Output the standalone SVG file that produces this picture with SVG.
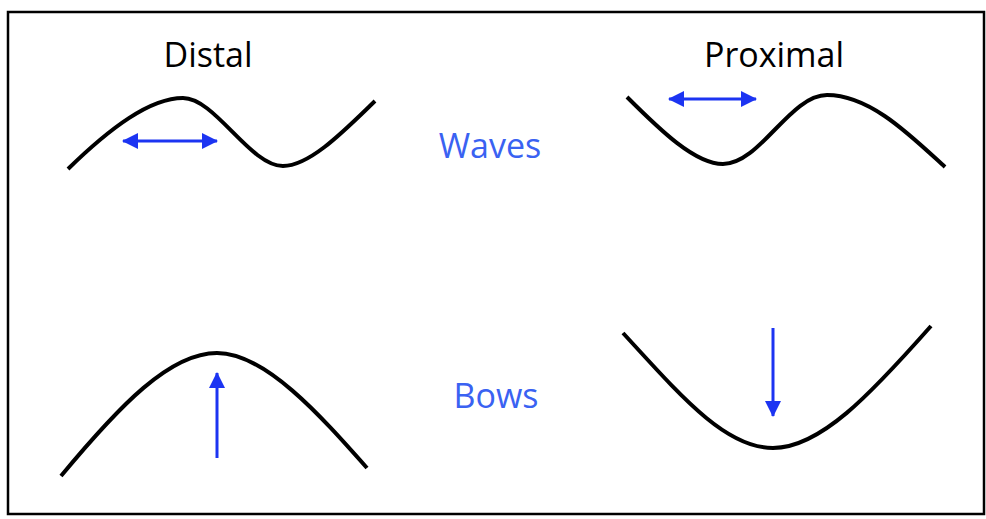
<svg xmlns="http://www.w3.org/2000/svg" width="986" height="519" viewBox="0 0 986 519">
<defs>
<style>
.curve{fill:none;stroke:#000;stroke-width:4}
.arr{fill:none;stroke:#1c34f2;stroke-width:3}
.lbl{font-family:"Open Sans","Liberation Sans",sans-serif;font-size:34px;text-anchor:middle}
.blue{fill:#3a62f2}
</style>
<marker id="ah" markerUnits="userSpaceOnUse" markerWidth="16" markerHeight="16" viewBox="0 0 16 16" refX="15" refY="8" orient="auto-start-reverse">
<path d="M0,0 L16,8 L0,16 Z" fill="#1c34f2"/>
</marker>
</defs>
<rect x="8" y="12" width="976" height="502" fill="#fff" stroke="#000" stroke-width="2.5"/>
<g id="labels">
<text class="lbl" x="208" y="67">Distal</text>
<text class="lbl" x="774" y="67">Proximal</text>
<text class="lbl blue" x="490" y="158">Waves</text>
<text class="lbl blue" x="496" y="408">Bows</text>
</g>
<g id="distal-wave">
<path class="curve" d="M68,169 C110,128 150,98 183,98 C215,98 250,166 283,166 C310,166 345,130 375,101"/>
</g>
<g id="proximal-wave">
<path class="curve" d="M627,97 C660,130 695,164 723,164 C760,164 790,95 827,95 C870,95 910,135 945,167"/>
</g>
<g id="distal-bow">
<path class="curve" d="M61,476 C120,405 170,353 217,353 C265,353 320,415 367,468"/>
</g>
<g id="proximal-bow">
<path class="curve" d="M623,333 C680,395 725,448 773,448 C820,448 870,395 931,326"/>
</g>
<g id="connectors">
<line class="arr" x1="123" y1="141" x2="217" y2="141" marker-start="url(#ah)" marker-end="url(#ah)"/>
<line class="arr" x1="669" y1="99" x2="756" y2="99" marker-start="url(#ah)" marker-end="url(#ah)"/>
<line class="arr" x1="217" y1="458" x2="217" y2="373" marker-end="url(#ah)"/>
<line class="arr" x1="773" y1="328" x2="773" y2="416" marker-end="url(#ah)"/>
</g>
</svg>
